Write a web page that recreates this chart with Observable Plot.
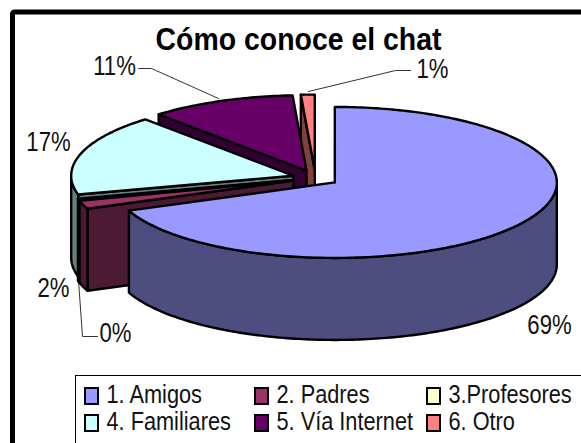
<!DOCTYPE html>
<html>
<head>
<meta charset="utf-8">
<script src="https://cdn.jsdelivr.net/npm/d3@7"></script>
<script src="https://cdn.jsdelivr.net/npm/@observablehq/plot@0.6"></script>
<style>
html,body{margin:0;padding:0;background:#fff;overflow:hidden}
svg{display:block;overflow:hidden}
</style>
</head>
<body>
<div id="chart"></div>
<script>
const titleText = "Cómo conoce el chat";
const categories = ["1. Amigos", "2. Padres", "3.Profesores", "4. Familiares", "5. Vía Internet", "6. Otro"];
const shares = [68.9, 1.8, 0.3, 17.4, 10.6, 1];
const topColors = ["#9999ff", "#993366", "#ffffcc", "#ccffff", "#660066", "#ff8080"];
const wallColors = ["#4d4d80", "#4d1a33", "#808066", "#668080", "#330033", "#804040"];

// layout of the tilted pie
const W = 581, H = 443;
const cx = 315, cy = 177.5, rx = 222, ry = 75.5, depth = 82, explode = 0.105;
const inkFont = "'Liberation Sans',Arial,sans-serif";
const condense = 0.82;

const total = d3.sum(shares);
const rad = d => d * Math.PI / 180;
let acc = 0;
const slices = shares.map((v, i) => {
  const a0 = acc / total * 360; acc += v;
  const a1 = acc / total * 360;
  const m = rad((a0 + a1) / 2);
  return {i, a0, a1, ax: cx + explode * rx * Math.sin(m), ay: cy - explode * ry * Math.cos(m)};
});
const rim = (s, a, dz = 0) => [s.ax + rx * Math.sin(rad(a)), s.ay - ry * Math.cos(rad(a)) + dz];

const polys = [];
let pid = 0;
function addPoly(pts, fill) {
  const id = pid++;
  [...pts, pts[0]].forEach(p => polys.push({id, x: p[0], y: p[1], fill}));
}
function arc(s, a, b, dz) {
  const out = [];
  const n = Math.max(1, Math.ceil(Math.abs(b - a)));
  for (let k = 0; k <= n; k++) out.push(rim(s, a + (b - a) * k / n, dz));
  return out;
}
// painter's order: back slices first, front slice last
for (const s of [...slices].reverse()) {
  const wall = wallColors[s.i], top = topColors[s.i];
  const face = a => {
    const r = rim(s, a);
    addPoly([[s.ax, s.ay], r, [r[0], r[1] + depth], [s.ax, s.ay + depth]], wall);
  };
  if (Math.sin(rad(s.a0)) < -1e-6) face(s.a0);
  if (Math.sin(rad(s.a1)) > 1e-6) face(s.a1);
  const lo = Math.max(s.a0, 90), hi = Math.min(s.a1, 270);
  if (hi > lo) addPoly([...arc(s, lo, hi, 0), ...arc(s, hi, lo, depth)], wall);
  addPoly([[s.ax, s.ay], ...arc(s, s.a0, s.a1, 0)], top);
}

// percentage labels and their leader lines
const pct = d3.format(".0%");
const labelX = [549, 53, 115, 48, 114, 432];
const labelY = [325, 288, 333, 142, 66, 69];
const labels = shares.map((v, i) => ({text: pct(v / total), x: labelX[i], y: labelY[i]}));
const leaders = [
  {id: "internet", x: 138, y: 68}, {id: "internet", x: 151, y: 68}, {id: "internet", x: 218, y: 98},
  {id: "otro", x: 410, y: 70}, {id: "otro", x: 395, y: 70}, {id: "otro", x: 308, y: 91},
  {id: "prof", x: 78, y: 280}, {id: "prof", x: 82, y: 336}, {id: "prof", x: 97, y: 336}
];

// legend grid
const legendCols = [85, 255, 427];
const legendRows = [388, 415];
const legend = categories.map((name, i) => ({
  name, fill: topColors[i],
  x: legendCols[i % 3], y: legendRows[Math.floor(i / 3)]
}));

const chart = Plot.plot({
  width: W, height: H,
  margin: 0,
  x: {domain: [0, W], range: [0, W], axis: null},
  y: {domain: [0, H], range: [0, H], axis: null},
  color: {type: "identity"},
  style: {background: "#fff", fontFamily: inkFont},
  marks: [
    Plot.rect([0], {x1: 12.5, x2: 640, y1: 12, y2: 500, fill: "none", stroke: "#000", strokeWidth: 5, rx: 2}),
    Plot.rect([0], {x1: 75.5, x2: 640, y1: 375.5, y2: 500, fill: "#fff", stroke: "#000", strokeWidth: 1}),
    Plot.line(leaders, {x: "x", y: "y", z: "id", stroke: "#333", strokeWidth: 1}),
    Plot.line(polys, {x: "x", y: "y", z: "id", fill: "fill", stroke: "#000", strokeWidth: 2.4, strokeLinejoin: "round"}),
    Plot.text([titleText], {x: () => 298, y: () => 40, text: d => d, fontFamily: inkFont, fontWeight: "bold", fontSize: 31, fill: "#000"}),
    Plot.text(labels, {x: "x", y: "y", text: "text", fontSize: 27, fill: "#111"}),
    Plot.rect(legend, {x1: "x", x2: d => d.x + 13, y1: "y", y2: d => d.y + 16, fill: "fill", stroke: "#000", strokeWidth: 2}),
    Plot.text(legend, {x: d => d.x + 21, y: d => d.y + 6, text: "name", textAnchor: "start", fontSize: 26.5, fill: "#111"})
  ]
});
document.getElementById("chart").append(chart);
// the reference uses a horizontally condensed face: narrow the real text to match
for (const t of chart.querySelectorAll("text")) {
  const len = t.getComputedTextLength();
  const target = t.textContent === titleText ? 286 : len * condense;
  t.setAttribute("textLength", target);
  t.setAttribute("lengthAdjust", "spacingAndGlyphs");
}
</script>
</body>
</html>
